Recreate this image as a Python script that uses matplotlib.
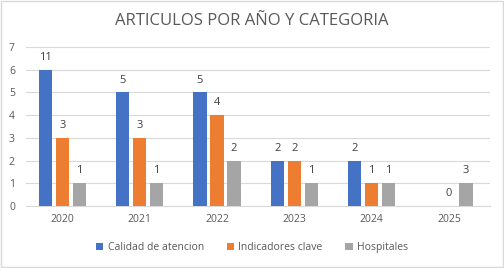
import numpy as np
import matplotlib.pyplot as plt

years = ['2020', '2021', '2022', '2023', '2024', '2025']
series = ['Calidad de atencion', 'Indicadores clave', 'Hospitales']
colors = ['#4472C4', '#ED7D31', '#A5A5A5']

# bar heights as drawn in the picture
calidad_h = [6, 5, 5, 2, 2, 0]
indicadores_h = [3, 3, 4, 2, 1, 0]
hospitales_h = [1, 1, 2, 1, 1, 1]

# data labels shown above the bars
calidad_lbl = ['11', '5', '5', '2', '2', '']
indicadores_lbl = ['3', '3', '4', '2', '1', '0']
hospitales_lbl = ['1', '1', '2', '1', '1', '3']

plt.rcParams['font.family'] = ['Open Sans', 'DejaVu Sans']
txt = '#595959'

fig = plt.figure(figsize=(5.04, 2.68), dpi=100)
ax = fig.add_axes([26/504, 62/268, 464/504, 159/268])

x = np.arange(len(years))
w = 0.17
off = 0.22
heights = [calidad_h, indicadores_h, hospitales_h]
labels = [calidad_lbl, indicadores_lbl, hospitales_lbl]
for i in range(3):
    pos = x + (i - 1) * off
    ax.bar(pos, heights[i], w, color=colors[i], label=series[i], zorder=3)
    for p, h, l in zip(pos, heights[i], labels[i]):
        ax.text(p, h + 0.3, l, ha='center', va='bottom', fontsize=8, color='#404040')

ax.set_xlim(-0.47, 5.53)
ax.set_ylim(0, 7)
ax.set_yticks(range(8))
ax.set_xticks(x)
ax.set_xticklabels(years)
ax.tick_params(length=0, labelsize=7.5, colors=txt)
ax.tick_params(axis='y', pad=8)
ax.tick_params(axis='x', pad=6)
ax.grid(axis='y', color='#D9D9D9', linewidth=0.8, zorder=0)
for s in ['top', 'right', 'left']:
    ax.spines[s].set_visible(False)
ax.spines['bottom'].set_color('#D9D9D9')

fig.text(0.5, 0.922, 'ARTICULOS POR AÑO Y CATEGORIA', ha='center', va='center',
         fontsize=12, color=txt)
fig.legend(loc='center', bbox_to_anchor=(0.5, 0.075), ncol=3, frameon=False,
           fontsize=7.5, handlelength=0.7, handleheight=0.7, columnspacing=2.2,
           handletextpad=0.4, labelcolor=txt)

# chart border
fig.patches.append(plt.Rectangle((0.001, 0.002), 0.997, 0.996, transform=fig.transFigure,
                                 fill=False, edgecolor='#D9D9D9', linewidth=1))

fig.savefig('out.png', dpi=100)
